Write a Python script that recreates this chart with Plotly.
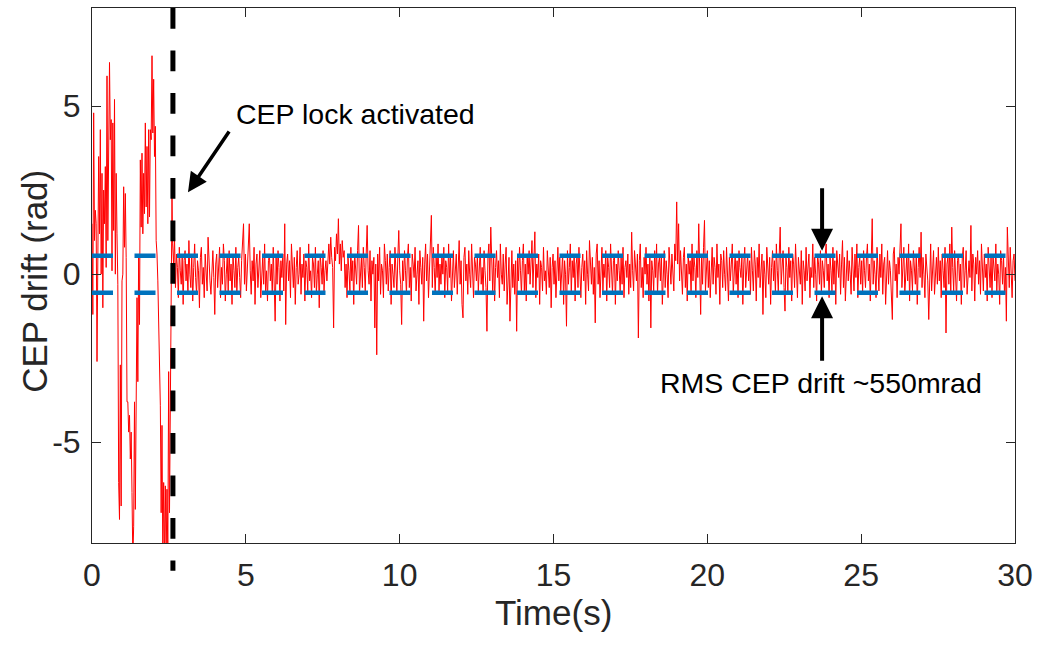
import numpy as np
import plotly.graph_objects as go

# ---------------- data ----------------
# CEP drift before the lock (0 s .. ~2.6 s), rad
early_drift = [
    1.5, -1.2, 4.8, 1.0, 1.9, 1.5, -2.6, 0.5, 3.5, 1.2, 4.3, 0.0,
    3.0, -1.0, 2.5, 1.5, 3.2, 0.2, 5.9, 1.0, 4.5, 6.3, 4.0, 4.6, 0.1,
    4.5, 1.3, 5.2, 0.0, 3.0, 1.2, -0.3, -6.2, -7.3, -2.7, -6.9, -0.2, 0.0,
    2.6, 0.8, 2.4, 0.5, -3.8, -3.8, -4.7, -4.2, -5.5, -4.7, -6.5, -8.5, -7.5,
    -3.8, -7.0, -4.5, -0.7, -3.2, 0.6, -1.5, 3.4, 1.4, 3.6, 1.2, 3.0, 1.8,
    4.5, 2.0, 3.8, 1.5, 4.3, 1.7, 4.3, 4.0, 6.5, 4.2, 5.8, 3.5, 4.4, 1.0,
    0.6, -0.2, -1.2, -2.6, -3.9, -7.1, -4.5, -8.5, -6.2, -8.5, -6.3, -8.4,
    -6.4, -8.3, -2.9, -7.1, -3.5, 1.0, 2.3,
]

# CEP drift after the lock is activated (~2.6 s .. 30 s), rad
locked_drift = [
    0.9, 0.3, 1.1, -0.4, 0.6, 0.2, -0.7, 0.8, 0.1, -0.3, 0.5, -0.9, 0.4, 0.7, -0.2, 0.3, -0.6, 1.0, 0.0, -0.4,
    0.6, -0.8, 0.2, 0.9, -0.1, -0.6, 0.4, 0.1, -1.0, 0.5, 0.8, -0.3, 0.2, -0.7, 0.6, 0.0, -0.5, 1.1, 0.3, -0.2,
    -0.6, 0.4, 0.7, -0.1, -1.2, 0.3, 0.6, -0.4, 0.1, 0.8, -0.7, 0.2, -0.3, 0.9, 0.4, -0.8, 0.0, 0.5, -0.5, 0.7,
    -0.2, 0.3, -0.9, 0.6, 0.1, -0.4, 0.8, -0.6, 0.2, 0.5, -0.1, -0.7, 0.4, 0.9, 1.5, -0.3, 0.6, -0.5, 0.2, 0.7,
    1.5, 0.1, -0.6, 0.4, -0.2, 0.8, -0.9, 0.3, 0.6, -0.4, 0.0, 0.7, -0.7, 0.2, 0.5, -0.3, 0.9, -0.5, 0.1, -0.8,
    0.4, 0.6, -0.2, 0.3, -0.6, 0.8, 0.0, -1.4, 0.5, -0.3, 0.7, 0.2, -0.8, 0.4, -0.1, 0.6, -0.5, 1.5, -1.5, 0.3,
    0.6, -0.2, 0.4, -0.7, 0.9, 0.1, -0.4, 0.5, -0.9, 0.2, 0.7, -0.3, 0.0, 0.8, -0.6, 0.3, -0.1, 0.6, -0.8, 0.4,
    0.2, -0.5, 0.9, -0.2, 0.1, -0.7, 0.5, 0.3, -0.4, 0.8, -0.6, 0.0, 0.4, -1.0, 0.6, 0.2, -0.3, 0.7, -0.5, 0.1,
    0.4, -0.2, 0.6, 0.9, 0.3, 1.1, 0.5, 0.2, -1.6, 0.8, 0.4, 1.2, 0.6, 1.65, 0.3, 0.9, 0.1, 1.0, 0.5, 0.7,
    -0.4, 0.3, -0.7, 0.5, 0.1, -0.5, 0.8, -0.2, 0.4, -0.9, 0.6, 0.0, -0.3, 0.7, 1.45, -0.6, 0.2, 0.5, -0.4, 0.8,
    0.2, -0.5, 0.6, 1.45, 0.1, -0.3, 0.7, -0.8, 0.4, 0.0, 0.5, -1.6, 0.3, -2.4, 0.6, -0.2, 0.8, -0.6, 0.3, 0.1,
    -0.7, 0.9, 0.4, -0.3, 0.6, -0.5, 0.2, 0.7, -0.9, 0.3, 0.0, -0.4, 0.8, 0.2, -0.6, 0.5, 1.3, 0.1, -0.3, -1.5,
    0.4, -0.2, 0.7, 0.1, -0.6, 0.5, 0.9, -0.4, 0.2, -0.8, 0.6, 0.3, -0.1, 0.8, -0.5, 0.0, 0.4, -0.9, 0.7, 0.2,
    -0.3, 0.5, -1.4, 0.3, 0.9, -0.2, 0.6, -0.7, 0.1, 0.4, 1.75, -0.4, 0.8, 0.2, -0.6, 0.5, -0.1, 0.9, -0.5, 0.3,
    -0.3, 0.6, 0.0, 0.8, -0.7, 0.4, 0.2, -0.5, 0.9, -0.1, 0.5, -0.8, 0.3, 0.7, -0.4, 0.1, 0.6, -0.6, 0.2, 1.0,
    -0.3, 0.4, -0.9, -1.3, 0.5, 0.8, -0.2, 0.3, -0.6, 0.7, 0.0, -0.4, 0.9, 0.1, -0.7, 0.5, 0.3, -0.2, 0.6, -0.5,
    0.4, 0.8, -0.3, 0.2, -0.6, 0.7, 0.1, -0.4, -1.7, 0.5, 0.9, -0.2, 1.4, 0.3, -0.5, 0.6, -0.8, 0.2, 0.7, -0.1,
    0.4, -0.7, 0.9, 0.0, -0.3, 0.6, -0.5, 0.3, 0.8, -0.9, 0.2, 0.5, -1.4, 0.1, 0.7, -0.4, 0.3, -0.6, 0.4, -1.7,
    0.5, -0.2, 0.8, 0.1, -0.6, 0.4, 0.9, -0.5, 0.3, -0.8, 0.6, 0.0, 0.7, -0.3, 0.2, 1.0, -0.4, 0.5, 1.26, -0.7,
    0.3, -0.1, 0.6, -0.9, 0.4, 0.2, -0.5, 0.8, -0.2, 0.1, -0.6, 0.7, 0.3, -0.4, 0.5, -1.0, 0.2, 0.6, -0.3, 0.4,
    -0.7, 0.3, 0.8, -0.2, 0.5, -0.5, 0.1, 0.6, -0.9, 0.4, 0.0, -1.55, 0.7, -0.3, 0.2, 0.9, -0.6, 0.4, -0.1, 0.6,
    -0.8, 0.3, 0.5, -0.4, 0.8, 0.1, -0.7, 0.2, 0.6, -0.2, 0.4, -0.9, 0.7, 0.0, -0.5, 1.0, 0.3, -0.3, 0.5, -0.6,
    0.2, -1.45, 0.6, 0.9, -0.3, 0.4, -0.7, 0.1, 0.8, -0.5, 0.3, -0.1, 0.7, -0.8, 0.5, 0.2, -0.4, 0.9, 0.0, -0.6,
    0.4, 0.6, -0.9, 0.3, -0.2, 0.7, 0.1, -0.5, 0.5, -0.3, 0.8, -0.7, 0.2, 0.4, -0.1, 0.6, -0.6, 0.3, -0.4, 1.25,
    0.1, -0.5, 0.7, 0.3, -0.2, 0.6, -1.9, 0.4, 0.9, -0.4, 0.2, -0.7, 0.5, 0.0, 0.8, -0.3, 0.3, -0.8, 0.6, -1.6,
    0.4, 0.1, -0.5, 0.7, -0.1, 0.9, -0.6, 0.3, 0.5, -0.2, 0.6, -0.9, 0.2, 0.7, -0.4, 0.4, 0.0, -0.7, 0.8, 0.3,
    -0.3, 0.6, 0.2, -0.5, 0.9, 0.4, 2.15, 0.3, 1.5, -0.2, 0.7, 0.1, -0.6, 0.5, 0.8, -0.4, 0.3, -0.8, 0.6, 0.0,
    0.4, -0.6, 0.9, -0.2, 0.5, 0.2, -0.7, 0.7, -0.1, 1.5, 0.3, -1.2, 0.6, -0.3, 0.8, 1.6, -0.5, 0.2, 0.7, -0.4,
    0.4, -0.7, 0.1, 0.8, -0.3, 0.5, 0.2, -0.6, 0.9, -0.1, 0.3, -0.9, 0.6, 0.4, -0.4, 0.7, 0.0, -0.5, 0.8, 0.2,
    -0.8, 0.5, -0.2, 0.3, 0.9, -0.6, 0.1, 0.6, -0.3, 0.4, -0.7, 0.7, 0.2, -0.1, 0.5, -0.9, 0.3, 0.8, -0.4, 0.0,
    0.6, -0.2, 0.4, -0.6, 0.8, 0.1, -0.5, 0.7, 0.3, -0.8, 0.5, -0.1, 0.9, -0.4, 0.2, 0.6, -1.2, 0.4, 0.0, -0.7,
    0.8, 0.3, -0.3, 0.5, -0.9, 0.2, 0.7, -0.2, 0.4, -0.6, 0.9, 0.1, -0.5, 0.6, 1.4, -0.3, 0.3, 0.7, -0.4, -1.1,
    0.5, 0.2, -0.6, 0.8, -0.1, 0.4, -0.8, 0.6, 0.3, -0.4, 0.9, 0.0, -0.7, 0.5, 0.2, -0.3, 0.7, -0.9, 0.4, 0.1,
    -0.5, 0.8, -0.2, 0.3, 0.6, -0.7, 0.2, -0.1, 0.9, -0.4, 0.5, 0.0, -0.8, 0.6, 0.3, -0.3, 0.7, -0.6, 0.4, 0.1,
    -0.4, 0.6, 0.9, -0.2, 0.3, -0.7, 0.5, 0.1, -0.5, 0.8, -0.3, 0.4, -0.9, 0.7, 0.2, -0.1, 0.6, -0.6, 0.3, 1.0,
    -0.4, 0.5, -0.8, 0.2, 0.7, -0.2, 0.4, 0.0, -0.6, 0.8, 0.3, -0.5, 0.6, -0.1, 0.9, -0.7, 0.2, 0.5, -0.3, 0.4,
    -0.6, 0.7, 0.1, -0.4, 0.5, 0.9, -0.2, 0.3, -0.8, 0.6, 1.65, -0.3, 0.4, 0.0, -0.7, 0.8, 0.2, -0.5, 0.6, -0.1,
    0.9, -0.6, 0.3, 0.5, -0.9, 0.2, 0.7, -0.3, 0.4, 0.1, -0.5, -1.35, 0.6, 0.8, -0.2, 0.3, -0.7, 0.5, 0.0, 0.6,
    1.5, -0.4, 0.3, 0.8, -0.6, 0.2, 0.5, -0.2, 0.9, -0.8, 0.4, 0.1, -0.5, 0.7, 0.3, -0.3, 0.6, -0.9, 0.2, 0.8,
    -0.1, 1.25, -0.4, 0.5, 0.0, -0.7, 0.6, 0.3, -0.2, -1.35, 0.4, 0.9, -0.5, 0.2, 0.7, -0.6, 0.1, 0.5, -0.3, 0.8,
    -0.2, 0.4, -0.7, 0.6, 0.1, -0.4, 0.8, -1.75, 0.3, 0.5, -0.3, 0.9, -0.6, 1.4, 0.2, -0.5, 0.7, 0.0, -0.8, 0.4,
    0.6, -0.2, 0.3, -0.9, 0.5, 0.8, -0.4, 0.1, 0.7, -0.6, 0.2, 0.4, -0.1, 1.45, -0.5, 0.6, 0.3, -0.8, 0.5, 0.0,
    0.7, -0.3, 0.4, -0.6, 0.9, 0.2, -0.5, 0.6, -0.1, 0.3, -0.8, 0.8, 0.1, -0.4, 0.5, -0.7, 0.6, 0.2, -0.2, 0.9,
    -0.5, 0.3, 0.0, -0.9, 0.7, 0.4, -0.3, 0.6, -0.6, 0.2, -1.4, 1.4, 0.5, -0.4, 0.8, 0.1, -0.7, 0.4, 0.6, -0.2,
]

early_span = [0.0, 2.6]      # s, time covered by early_drift
locked_span = [2.62, 30.0]   # s, time covered by locked_drift
lock_time = 2.63             # s, CEP lock activated
rms_level = 0.55             # rad, RMS CEP drift
x_ticks = [0, 5, 10, 15, 20, 25, 30]
y_ticks = [-5, 0, 5]
x_range = [0, 30]
y_range = [-8.0, 7.92]
x_title = "Time(s)"
y_title = "CEP drift (rad)"
lock_label = "CEP lock activated"
rms_label = "RMS CEP drift ~550mrad"

# ---------------- figure ----------------
t_early = np.linspace(early_span[0], early_span[1], len(early_drift))
t_locked = np.linspace(locked_span[0], locked_span[1], len(locked_drift))
t_all = np.concatenate([t_early, t_locked])
drift_all = np.concatenate([early_drift, locked_drift])

FONT = "Liberation Sans, Arial, sans-serif"
AXCOL = "#262626"

fig = go.Figure()
fig.add_trace(go.Scatter(
    x=t_all, y=drift_all, mode="lines",
    line=dict(color="#FF0000", width=1),
    showlegend=False, hoverinfo="skip",
))
for lvl in (rms_level, -rms_level):
    fig.add_trace(go.Scatter(
        x=x_range, y=[lvl, lvl], mode="lines",
        line=dict(color="#0072BD", width=4.5, dash="21px,21.5px"),
        showlegend=False, hoverinfo="skip",
    ))

# vertical dashed line marking the lock (extends slightly below the axis)
fig.add_shape(
    type="line", xref="x", yref="paper",
    x0=lock_time, x1=lock_time, y0=1.0, y1=-0.052,
    line=dict(color="black", width=5, dash="20.7px,21.8px"),
    layer="above",
)

annots = [
    dict(x=4.6, y=4.76, xref="x", yref="y", text=lock_label,
         showarrow=False, xanchor="left", yanchor="middle",
         font=dict(family=FONT, size=28.5, color="black")),
    dict(x=3.12, y=2.44, ax=4.49, ay=4.29, xref="x", yref="y",
         axref="x", ayref="y", text="", showarrow=True,
         arrowhead=2, arrowsize=1.1, arrowwidth=3.5, arrowcolor="black"),
    dict(x=23.73, y=0.7, ax=23.73, ay=2.6, xref="x", yref="y",
         axref="x", ayref="y", text="", showarrow=True,
         arrowhead=2, arrowsize=1.1, arrowwidth=4, arrowcolor="black"),
    dict(x=23.73, y=-0.66, ax=23.73, ay=-2.62, xref="x", yref="y",
         axref="x", ayref="y", text="", showarrow=True,
         arrowhead=2, arrowsize=1.1, arrowwidth=4, arrowcolor="black"),
    dict(x=23.7, y=-3.23, xref="x", yref="y", text=rms_label,
         showarrow=False, xanchor="center", yanchor="middle",
         font=dict(family=FONT, size=28.5, color="black")),
    # axis titles
    dict(x=0.5, y=-0.13, xref="paper", yref="paper", text=x_title,
         showarrow=False, xanchor="center", yanchor="middle",
         font=dict(family=FONT, size=35, color=AXCOL)),
    dict(x=-0.0618, y=0.49, xref="paper", yref="paper", text=y_title,
         showarrow=False, xanchor="center", yanchor="middle", textangle=-90,
         font=dict(family=FONT, size=35, color=AXCOL)),
]
for a in annots:
    fig.add_annotation(**a)

axis_common = dict(
    showline=True, linecolor=AXCOL, linewidth=1, mirror="ticks",
    ticks="inside", ticklen=9, tickwidth=1, tickcolor=AXCOL,
    showgrid=False, zeroline=False,
    tickfont=dict(family=FONT, size=32, color=AXCOL),
)

fig.update_xaxes(
    range=x_range, tickvals=x_ticks, ticktext=[str(v) for v in x_ticks],
    ticklabelstandoff=4,
    **axis_common,
)
fig.update_yaxes(
    range=y_range, tickvals=y_ticks, ticktext=[str(v) for v in y_ticks],
    ticklabelstandoff=4,
    **axis_common,
)

fig.update_layout(
    width=1038, height=648,
    margin=dict(l=92, r=23, t=8, b=105, autoexpand=False),
    paper_bgcolor="white", plot_bgcolor="white",
    font=dict(family=FONT, color=AXCOL),
)

fig.write_html("out.html", config={"displayModeBar": False},
               post_script="document.body.style.margin='0px';")
